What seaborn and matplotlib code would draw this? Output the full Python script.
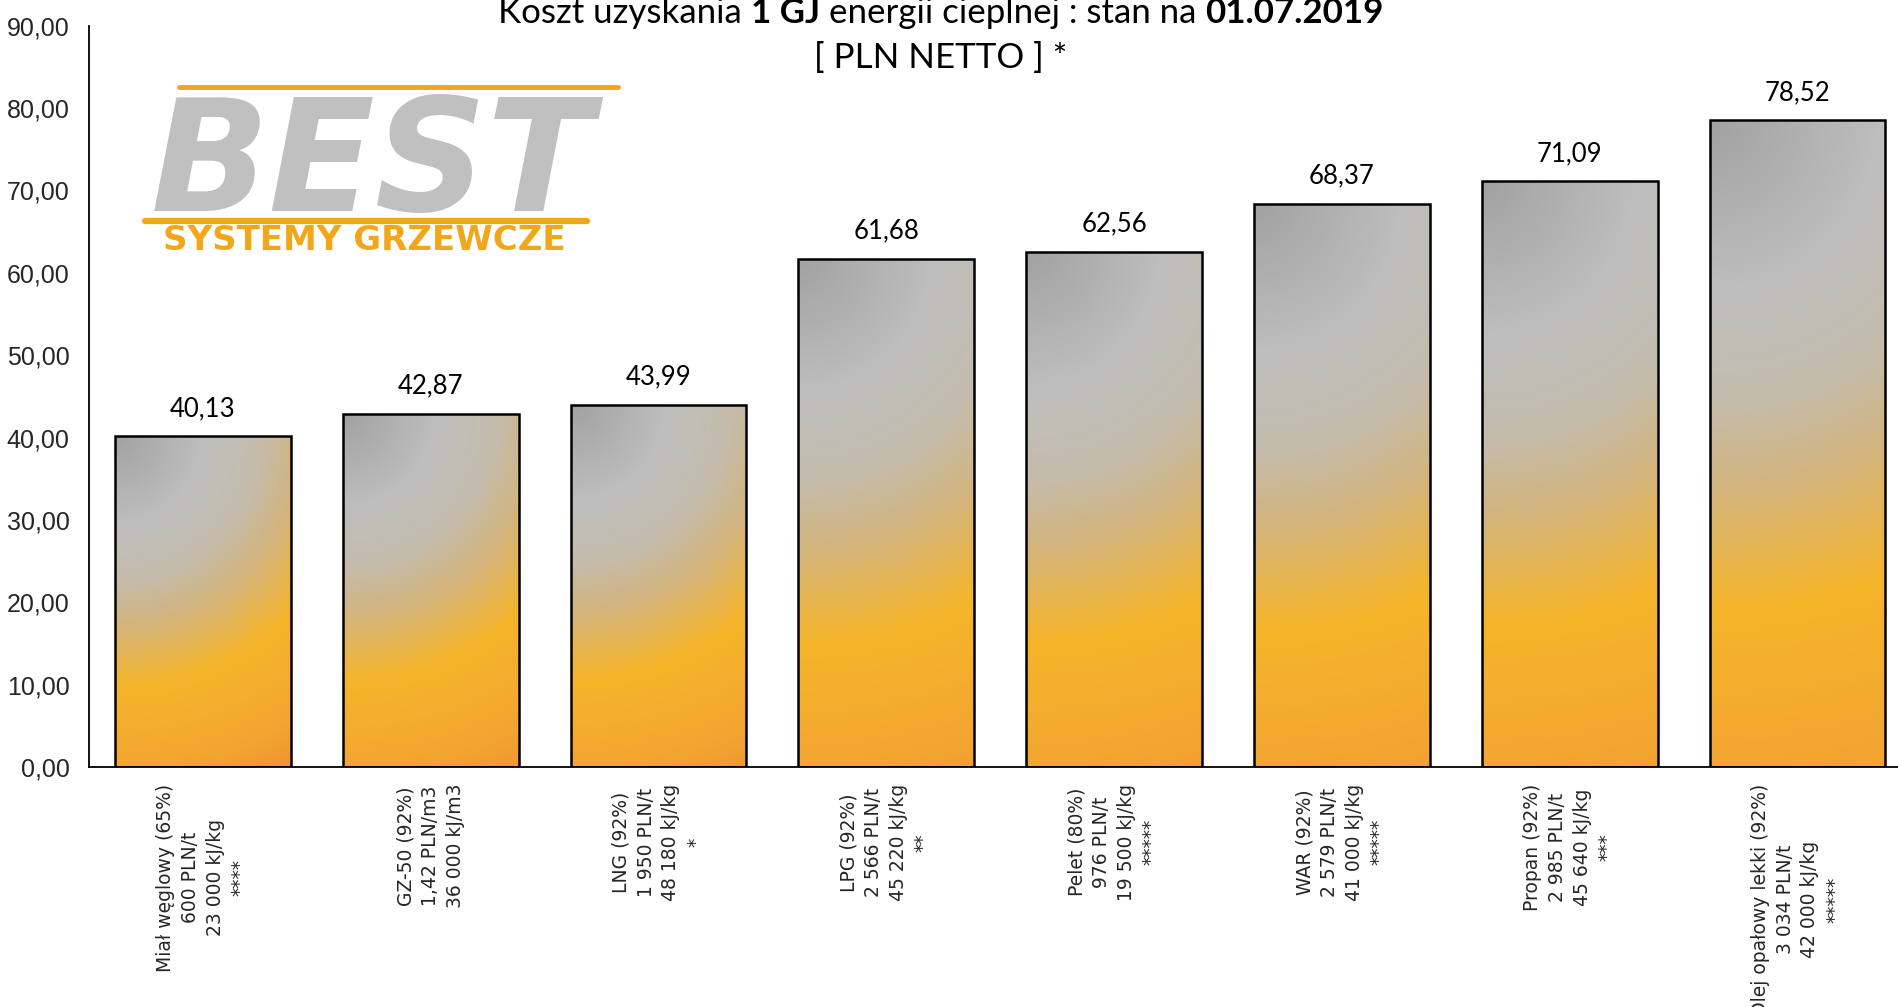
import numpy as np
import pandas as pd
import matplotlib
matplotlib.use("Agg")
import matplotlib.pyplot as plt
import seaborn as sns
from matplotlib.colors import LinearSegmentedColormap
from matplotlib.ticker import FixedLocator, FuncFormatter

# ---------------- data ----------------
categories = [
    "Miał węglowy (65%)\n600 PLN/t\n23 000 kJ/kg\n****",
    "GZ-50 (92%)\n1,42 PLN/m3\n36 000 kJ/m3",
    "LNG (92%)\n1 950 PLN/t\n48 180 kJ/kg\n*",
    "LPG (92%)\n2 566 PLN/t\n45 220 kJ/kg\n**",
    "Pelet (80%)\n976 PLN/t\n19 500 kJ/kg\n*****",
    "WAR (92%)\n2 579 PLN/t\n41 000 kJ/kg\n*****",
    "Propan (92%)\n2 985 PLN/t\n45 640 kJ/kg\n***",
    "Olej opałowy lekki (92%)\n3 034 PLN/t\n42 000 kJ/kg\n*****",
]
values = [40.13, 42.87, 43.99, 61.68, 62.56, 68.37, 71.09, 78.52]
y_ticks = [0, 10, 20, 30, 40, 50, 60, 70, 80, 90]
title_parts = [("Koszt uzyskania", "normal"), ("1 GJ", "bold"),
               ("energii cieplnej : stan na", "normal"), ("01.07.2019", "bold")]
subtitle = "[ PLN NETTO ] *"
logo_main = "BEST"
logo_sub = "SYSTEMY GRZEWCZE"

# ---------------- style ----------------
sns.set_theme(style="white")
plt.rcParams["font.family"] = ["DejaVu Sans"]

W_PX, H_PX = 1899, 1007
fig = plt.figure(figsize=(W_PX / 100, H_PX / 100), dpi=100)
fig.patch.set_facecolor("white")

ax_left, ax_bottom_px, ax_top_px, cat_w = 89, 767, 25.7, 227.8
ax = fig.add_axes([ax_left / W_PX, 1 - ax_bottom_px / H_PX,
                   len(categories) * cat_w / W_PX, (ax_bottom_px - ax_top_px) / H_PX])
ax.set_facecolor("white")

df = pd.DataFrame({"cat": categories, "val": values})
sns.barplot(data=df, x="cat", y="val", ax=ax, width=0.771, color="#F5B52B",
            saturation=1, edgecolor="black", linewidth=1.8, errorbar=None)

ax.set_xlim(-0.5, len(categories) - 0.5)
ax.set_ylim(0, 90)

# ---------------- gradient fill ----------------
stops = [(0.00, "#A2A2A2"), (0.23, "#BEBEBE"), (0.38, "#C4BCAC"),
         (0.50, "#D4B47C"), (0.66, "#F5B52A"), (0.88, "#F3A531"), (1.0, "#F0922F")]
tmax = 1.15
cmap = LinearSegmentedColormap.from_list("best", stops)
fig.canvas.draw()
for p in ax.patches:
    x0, w, h = p.get_x(), p.get_width(), p.get_height()
    (px0, py0), (px1, py1) = ax.transData.transform([(x0, 0), (x0 + w, h)])
    aspect = abs(px1 - px0) / abs(py1 - py0)
    nh, nw = 300, 100
    u = np.linspace(0, 1, nw)[None, :]
    v = np.linspace(0, 1, nh)[:, None]
    t = np.sqrt((u * aspect) ** 2 + v ** 2) / tmax
    img = cmap(np.clip(t, 0, 1))
    im = ax.imshow(img, extent=[x0, x0 + w, 0, h], origin="upper", aspect="auto",
                   interpolation="bilinear", zorder=p.get_zorder() - 0.01)
    im.set_clip_path(p)
    p.set_facecolor("none")
    p.set_zorder(3)
ax.set_xlim(-0.5, len(categories) - 0.5)
ax.set_ylim(0, 90)

# ---------------- axes ----------------
for s in ["top", "right"]:
    ax.spines[s].set_visible(False)
for s in ["left", "bottom"]:
    ax.spines[s].set_color("black")
    ax.spines[s].set_linewidth(1.3)

ax.yaxis.set_major_locator(FixedLocator(y_ticks))
ax.yaxis.set_major_formatter(FuncFormatter(lambda v, _: f"{v:.2f}".replace(".", ",")))
ax.tick_params(axis="y", which="major", direction="out", length=6, width=1.2,
               color="#808080", pad=8, labelsize=18)
for lab in ax.get_yticklabels():
    lab.set_fontfamily("Liberation Sans")

ax.set_xticks(range(len(categories)))
ax.set_xticklabels(categories, rotation=90, ha="center", va="top",
                   multialignment="center", linespacing=1.38,
                   fontsize=13.5, fontfamily="DejaVu Sans")
ax.xaxis.set_minor_locator(FixedLocator(np.arange(-0.5, len(categories), 1.0)))
ax.tick_params(axis="x", which="major", length=0, pad=12)
ax.tick_params(axis="x", which="minor", direction="out", length=6, width=1.2,
               color="#808080")
ax.set_xlabel("")
ax.set_ylabel("")

# ---------------- value labels ----------------
for i, v in enumerate(values):
    ax.annotate(f"{v:.2f}".replace(".", ","), (i, v), xytext=(0, 11),
                textcoords="offset points", ha="center", va="bottom",
                fontsize=18.5, fontfamily="Lato", color="black", zorder=5)

# ---------------- title (mixed weights) ----------------
renderer = fig.canvas.get_renderer()

def measure(txt, size, weight):
    tt = fig.text(0, 0, txt, fontsize=size, fontweight=weight, fontfamily="Lato")
    wpx = tt.get_window_extent(renderer).width
    tt.remove()
    return wpx

base = 20.0
space_w = measure("a a", base, "normal") - measure("aa", base, "normal")
total = sum(measure(t_, base, w_) for t_, w_ in title_parts) + space_w * (len(title_parts) - 1)
target_w = 888.0
size = base * target_w / total
space_w *= size / base
widths = [measure(t_, size, w_) for t_, w_ in title_parts]
total = sum(widths) + space_w * (len(title_parts) - 1)
xc = 941.0
xpos = xc - total / 2
base_y = 1 - 23.0 / H_PX
for (t_, w_), wd in zip(title_parts, widths):
    fig.text(xpos / W_PX, base_y, t_, fontsize=size, fontweight=w_, fontfamily="Lato",
             ha="left", va="baseline", color="black")
    xpos += wd + space_w
fig.text(xc / W_PX, 1 - 68.0 / H_PX, subtitle, fontsize=size, fontfamily="Lato",
         ha="center", va="baseline", color="black")

# ---------------- logo ----------------
orange = "#F2A71B"
fig.add_artist(plt.Line2D([179 / W_PX, 618 / W_PX], [1 - 87 / H_PX, 1 - 87 / H_PX],
                          color=orange, lw=3.5))
fig.add_artist(plt.Line2D([145 / W_PX, 587 / W_PX], [1 - 221 / H_PX, 1 - 221 / H_PX],
                          color=orange, lw=4.5))
fig.text(372 / W_PX, 1 - 211 / H_PX, logo_main, fontsize=112, fontweight="heavy",
         style="italic", fontfamily="DejaVu Sans", color="#C0C0C0",
         ha="center", va="baseline")
fig.text(364 / W_PX, 1 - 250 / H_PX, logo_sub, fontsize=24.5, fontweight="bold",
         fontfamily="DejaVu Sans", color=orange, ha="center", va="baseline")

fig.savefig("out.png", dpi=100, facecolor="white")
